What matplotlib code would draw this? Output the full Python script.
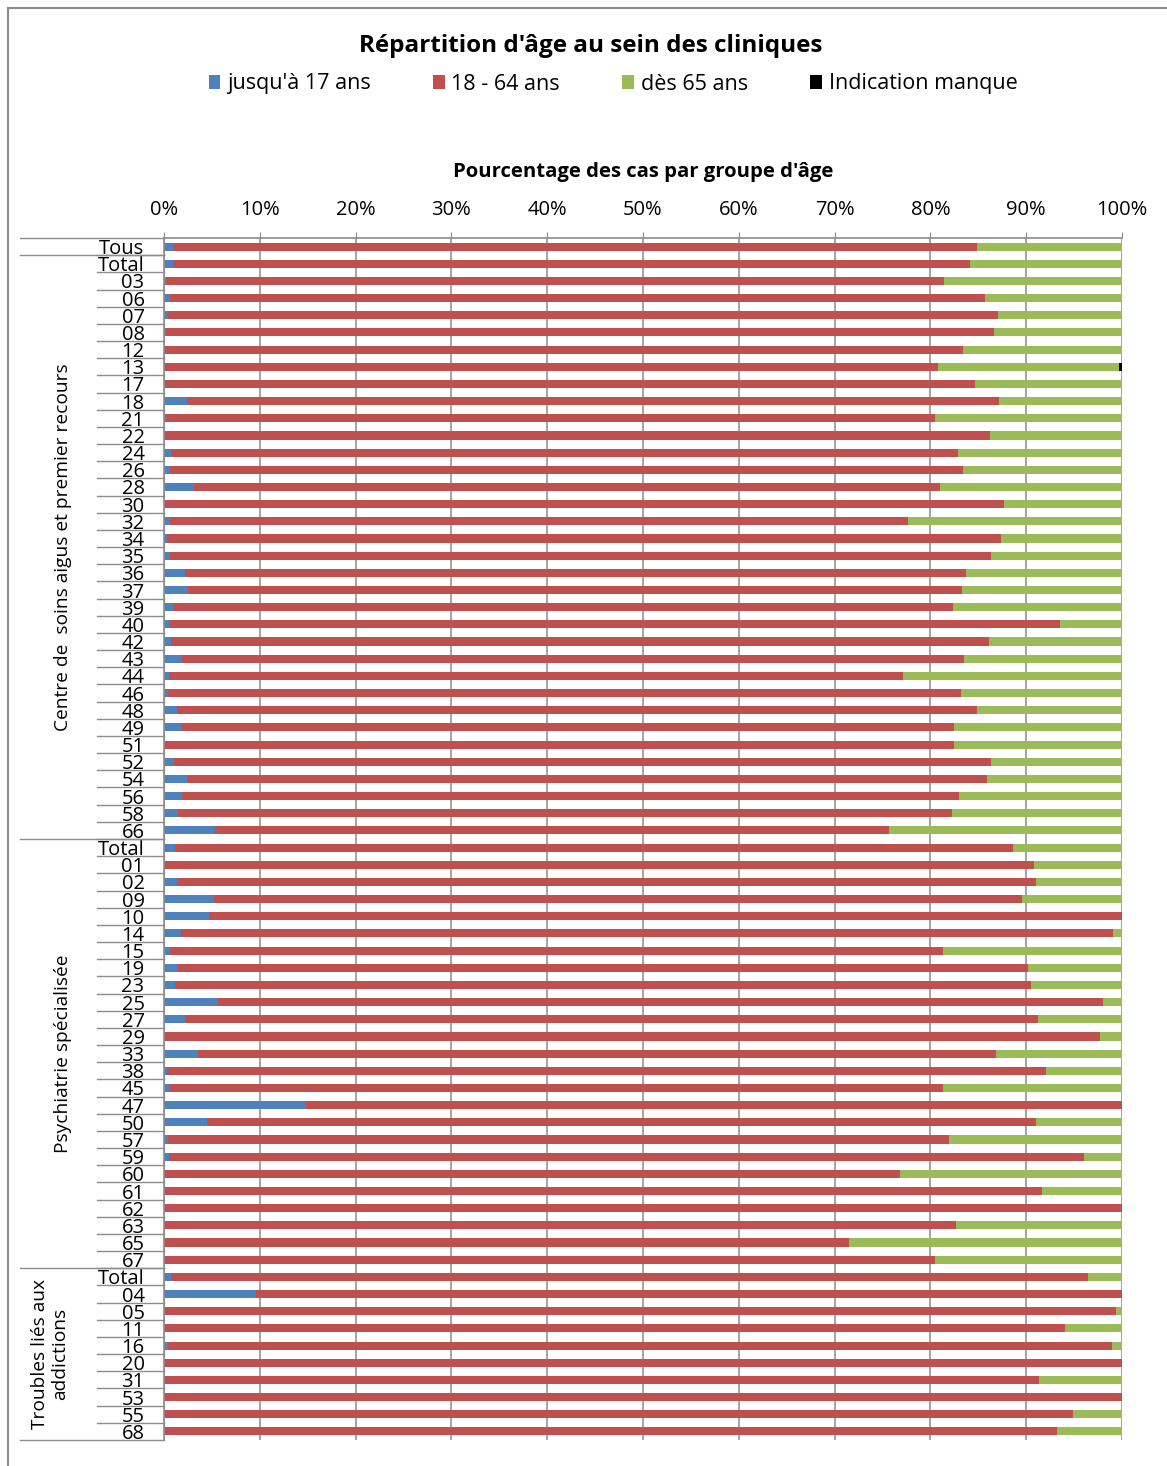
import matplotlib
matplotlib.use("Agg")
import matplotlib.pyplot as plt
from matplotlib.patches import Rectangle
import numpy as np

plt.rcParams['font.family'] = ['Open Sans', 'DejaVu Sans']

# category labels, top to bottom
labels = ["Tous",
          "Total", "03", "06", "07", "08", "12", "13", "17", "18", "21", "22", "24", "26", "28",
          "30", "32", "34", "35", "36", "37", "39", "40", "42", "43", "44", "46", "48", "49",
          "51", "52", "54", "56", "58", "66",
          "Total", "01", "02", "09", "10", "14", "15", "19", "23", "25", "27", "29", "33", "38",
          "45", "47", "50", "57", "59", "60", "61", "62", "63", "65", "67",
          "Total", "04", "05", "11", "16", "20", "31", "53", "55", "68"]

# percentages per age group
jusqua17 = [0.9,
            0.9, 0.2, 0.6, 0.4, 0.2, 0.0, 0.0, 0.2, 2.4, 0.2, 0.0, 0.7, 0.6, 3.1,
            0.0, 0.6, 0.3, 0.6, 2.2, 2.5, 0.9, 0.5, 0.7, 1.9, 0.5, 0.4, 1.4, 1.8,
            0.0, 1.0, 2.4, 1.9, 1.5, 5.3,
            1.2, 0.0, 1.4, 5.2, 4.7, 1.8, 0.6, 1.5, 1.1, 5.6, 2.2, 0.0, 3.5, 0.3,
            0.5, 14.8, 4.5, 0.4, 0.5, 0.0, 0.0, 0.0, 0.0, 0.0, 0.0,
            0.7, 9.6, 0.0, 0.0, 0.4, 0.0, 0.0, 0.0, 0.0, 0.0]
de18a64 = [84.0,
           83.2, 81.2, 85.1, 86.7, 86.4, 83.4, 80.8, 84.5, 84.8, 80.3, 86.2, 82.2, 82.8, 77.9,
           87.7, 77.1, 87.1, 85.7, 81.5, 80.8, 81.5, 93.0, 85.4, 81.6, 76.6, 82.8, 83.5, 80.7,
           82.5, 85.3, 83.5, 81.1, 80.8, 70.4,
           87.4, 90.8, 89.6, 84.4, 95.3, 97.3, 80.7, 88.7, 89.4, 92.4, 89.0, 97.7, 83.3, 91.8,
           80.8, 85.2, 86.5, 81.5, 95.5, 76.8, 91.7, 100.0, 82.7, 71.5, 80.5,
           95.7, 90.4, 99.4, 94.0, 98.6, 100.0, 91.3, 100.0, 94.9, 93.2]
des65 = [15.1,
         15.9, 18.6, 14.3, 12.9, 13.4, 16.6, 18.9, 15.3, 12.8, 19.5, 13.8, 17.1, 16.6, 19.0,
         12.3, 22.3, 12.6, 13.7, 16.3, 16.7, 17.6, 6.5, 13.9, 16.5, 22.9, 16.8, 15.1, 17.5,
         17.5, 13.7, 14.1, 17.0, 17.7, 24.3,
         11.4, 9.2, 9.0, 10.4, 0.0, 0.9, 18.7, 9.8, 9.5, 2.0, 8.8, 2.3, 13.2, 7.9,
         18.7, 0.0, 9.0, 18.1, 4.0, 23.2, 8.3, 0.0, 17.3, 28.5, 19.5,
         3.6, 0.0, 0.6, 6.0, 1.0, 0.0, 8.7, 0.0, 5.1, 6.8]
manque = [0.0] * 70
manque[7] = 0.3

groups = ["Centre de  soins aigus et premier recours", "Psychiatrie spécialisée",
          "Troubles liés aux\naddictions"]
group_sizes = [34, 25, 10]

series = [("jusqu'à 17 ans", jusqua17, "#4F81BD"),
          ("18 - 64 ans", de18a64, "#C0504D"),
          ("dès 65 ans", des65, "#9BBB59"),
          ("Indication manque", manque, "#000000")]

W, H = 1167, 1466
fig = plt.figure(figsize=(W / 100, H / 100), dpi=100)
ax = fig.add_axes([164 / W, 1 - 1440 / H, (1122 - 164) / W, (1440 - 238) / H])

y = np.arange(len(labels))
left = np.zeros(len(labels))
handles = []
for name, vals, col in series:
    vals = np.array(vals)
    b = ax.barh(y, vals, left=left, height=0.47, color=col, label=name)
    handles.append(b)
    left += vals

ax.set_xlim(0, 100)
ax.set_ylim(len(labels) - 0.5, -0.5)
ax.xaxis.tick_top()
ax.set_xticks(np.arange(0, 101, 10))
ax.set_xticklabels([f"{v}%" for v in range(0, 101, 10)], fontsize=14.5)
ax.tick_params(axis='x', length=4, color='#8c8c8c', pad=9)
ax.set_yticks(y)
ax.set_yticklabels(labels, fontsize=14.5)
ax.tick_params(axis='y', length=0, pad=14)
for lbl in ax.get_yticklabels():
    lbl.set_verticalalignment('center_baseline')

ax.grid(axis='x', color='#a6a6a6', linewidth=1.5)
ax.set_axisbelow(True)
for s in ['right', 'bottom']:
    ax.spines[s].set_visible(False)
for s in ['top', 'left']:
    ax.spines[s].set_color('#8c8c8c')
    ax.spines[s].set_linewidth(1.2)

# multi-level category separators
tr = ax.get_yaxis_transform()
inner_x = (97 - 164) / 958
outer_x = (20 - 164) / 958
for i in range(len(labels) - 1):
    ax.plot([inner_x, 0], [i + 0.5, i + 0.5], transform=tr, color='#8c8c8c',
            linewidth=1.0, clip_on=False)
bounds = [-0.5, 0.5]
start = 1
for n in group_sizes:
    start += n
    bounds.append(start - 0.5)
for b in bounds:
    ax.plot([outer_x, 0], [b, b], transform=tr, color='#8c8c8c',
            linewidth=1.0, clip_on=False)

start = 1
for g, n in zip(groups, group_sizes):
    yc = start + (n - 1) / 2
    gx = (63 - 164) / 958 if "\n" not in g else (50 - 164) / 958
    ax.text(gx, yc, g, transform=tr, rotation=90, ha='center', va='center',
            multialignment='center', fontsize=13.8)
    start += n

fig.text(591 / W, 1 - 46 / H, "Répartition d'âge au sein des cliniques",
         ha='center', va='center', fontsize=17.5, fontweight='bold')
fig.text(643 / W, 1 - 172 / H, "Pourcentage des cas par groupe d'âge",
         ha='center', va='center', fontsize=14.6, fontweight='bold')
fig.legend(handles=handles, loc='center', bbox_to_anchor=(613 / W, 1 - 84 / H),
           ncol=4, frameon=False, fontsize=15.5, handlelength=0.55, handleheight=0.65,
           handletextpad=0.3, columnspacing=2.9)

# outer chart frame
fig.patches.append(Rectangle((8 / W, -0.1), 1.2, 1.1 - 8 / H, transform=fig.transFigure,
                             fill=False, edgecolor='#8c8c8c', linewidth=1.5))

fig.savefig("out.png", dpi=100, facecolor='white')
